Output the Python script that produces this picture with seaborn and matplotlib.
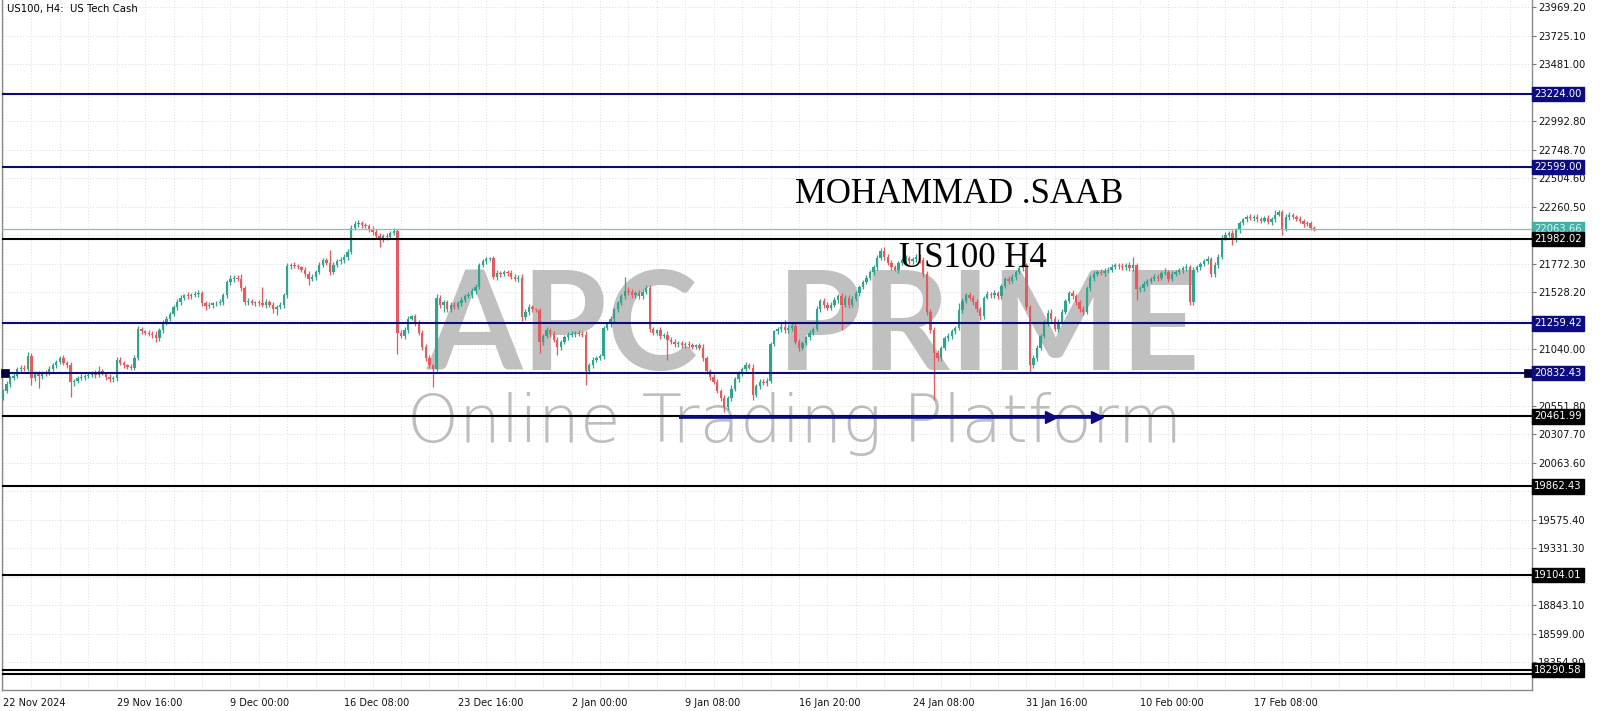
import matplotlib
matplotlib.use("Agg")
import matplotlib.pyplot as plt
from matplotlib.transforms import blended_transform_factory
import numpy as np
import pandas as pd
import seaborn as sns

# ---------------- data ----------------
first_open = 20630
close = [
    20680, 20740, 20790, 20810, 20870, 20880, 20870, 20980,
    20790, 20830, 20810, 20840, 20830, 20870, 20900, 20930,
    20960, 20920, 20900, 20760, 20770, 20790, 20800, 20810,
    20820, 20830, 20820, 20850, 20830, 20800, 20780, 20790,
    20950, 20920, 20900, 20890, 20880, 20960, 21210, 21190,
    21180, 21170, 21160, 21130, 21200, 21260, 21300, 21340,
    21400, 21440, 21480, 21500, 21490, 21500, 21510, 21520,
    21430, 21410, 21420, 21430, 21430, 21440, 21500, 21610,
    21640, 21650, 21640, 21560, 21440, 21450, 21430, 21440,
    21430, 21420, 21440, 21420, 21380, 21400, 21420, 21500,
    21750, 21760, 21750, 21740, 21720, 21680, 21640, 21660,
    21700, 21760, 21800, 21780, 21700, 21760, 21790, 21800,
    21830, 21870, 22080, 22110, 22120, 22100, 22090, 22070,
    22040, 22010, 21980, 22010, 22000, 22030, 22050, 21180,
    21150, 21200, 21300, 21320, 21260, 21180, 21060, 20960,
    20900, 20870, 21480, 21420, 21440, 21380, 21420, 21400,
    21430, 21460, 21490, 21500, 21540, 21570, 21760, 21790,
    21810, 21820, 21660, 21690, 21680, 21700, 21690, 21660,
    21640, 21650, 21310, 21360, 21400, 21380, 21370, 21100,
    21150, 21200, 21170, 21120, 21060, 21100, 21140, 21160,
    21170, 21180, 21170, 21160, 20850, 20900, 20950, 20960,
    20980, 21220, 21250, 21300, 21380, 21430, 21490, 21540,
    21530, 21500, 21520, 21490, 21530, 21560, 21210, 21180,
    21200, 21150, 21160, 21120, 21100, 21080, 21090, 21070,
    21080, 21070, 21060, 21070, 21050, 20960, 20850, 20800,
    20760, 20680, 20620, 20540, 20620, 20700, 20780, 20830,
    20870, 20900, 20880, 20650, 20720, 20760, 20750, 20770,
    21080, 21190, 21210, 21230, 21200, 21220, 21240, 21100,
    21050, 21090, 21140, 21180, 21210, 21380, 21450, 21420,
    21390, 21420, 21460, 21490, 21420, 21480, 21420, 21470,
    21520, 21570, 21610, 21650, 21700, 21740, 21820, 21880,
    21830, 21780, 21740, 21720, 21780, 21800, 21820, 21790,
    21810, 21830, 21800, 21680, 21360, 21200, 21010, 20960,
    21050, 21130, 21150, 21190, 21220, 21370, 21450, 21500,
    21480, 21440, 21380, 21320, 21480, 21510, 21500, 21520,
    21490, 21580, 21640, 21620, 21660, 21700, 21730, 21760,
    21400, 20900, 20960, 21050, 21150, 21260, 21350, 21300,
    21210, 21270, 21360, 21450, 21520, 21490, 21440, 21380,
    21360, 21560, 21650, 21680, 21700, 21690, 21710, 21720,
    21740, 21760, 21750, 21740, 21760, 21730, 21760, 21550,
    21560, 21600, 21620, 21640, 21660, 21650, 21690, 21700,
    21640, 21680, 21700, 21720, 21730, 21740, 21440, 21720,
    21740, 21770, 21790, 21810, 21680, 21760, 21830, 21990,
    22020, 22030, 21980, 22060, 22120, 22150, 22170, 22160,
    22170, 22150, 22140, 22160, 22130, 22150, 22190, 22210,
    22070, 22170, 22190, 22170, 22150, 22140, 22110, 22120,
    22080, 22063.66,
]
up_wick = [
    20, 25, 15, 30, 20, 25, 20, 35, 30, 20, 25, 15, 20, 25, 20, 15,
    20, 25, 20, 30, 15, 20, 25, 20, 15, 20, 30, 45, 20, 15, 25, 20,
    20, 25, 20, 15, 20, 30, 25, 20, 15, 25, 20, 30, 20, 25, 20, 15,
    20, 25, 20, 15, 25, 20, 30, 25, 20, 25, 20, 15, 20, 25, 20, 20,
    30, 25, 20, 40, 20, 25, 20, 15, 20, 140, 30, 20, 20, 15, 25, 20,
    25, 20, 25, 20, 15, 20, 25, 20, 20, 25, 20, 20, 110, 25, 20, 25,
    20, 25, 20, 25, 25, 20, 15, 20, 20, 25, 20, 15, 20, 20, 25, 15,
    25, 30, 20, 15, 20, 25, 20, 20, 25, 15, 30, 25, 20, 20, 25, 20,
    20, 25, 20, 25, 20, 25, 20, 25, 20, 10, 20, 25, 20, 15, 20, 25,
    20, 25, 30, 20, 25, 20, 15, 25, 20, 30, 20, 25, 20, 15, 20, 25,
    20, 15, 25, 20, 30, 20, 25, 20, 15, 20, 25, 20, 15, 20, 25, 117,
    30, 25, 20, 25, 20, 30, 25, 20, 15, 25, 20, 30, 20, 25, 20, 20,
    20, 25, 20, 15, 25, 30, 20, 15, 25, 20, 15, 25, 20, 30, 20, 25,
    20, 25, 20, 30, 20, 25, 20, 25, 20, 15, 20, 30, 60, 25, 20, 30,
    25, 20, 15, 25, 20, 25, 20, 25, 20, 20, 25, 20, 30, 20, 25, 20,
    15, 20, 25, 20, 15, 20, 25, 25, 30, 20, 25, 20, 15, 20, 25, 20,
    20, 25, 20, 30, 25, 20, 25, 20, 15, 20, 25, 20, 20, 60, 25, 20,
    25, 20, 25, 20, 15, 25, 20, 25, 20, 15, 20, 25, 20, 20, 25, 20,
    20, 20, 25, 20, 20, 25, 20, 30, 20, 25, 20, 15, 20, 25, 20, 20,
    25, 20, 25, 30, 20, 25, 20, 20, 25, 20, 15, 25, 20, 25, 70, 20,
    20, 25, 20, 15, 20, 25, 20, 30, 20, 25, 20, 15, 20, 25, 20, 25,
    20, 15, 20, 25, 20, 25, 20, 25, 20, 20, 25, 20, 20, 15, 20, 25,
    20, 25, 20, 15, 25, 20, 40, 20, 20, 25, 20, 15, 20, 25, 15, 20,
    20, 15,
]
lo_wick = [
    30, 20, 25, 15, 20, 25, 20, 15, 60, 20, 100, 25, 20, 15, 20, 25,
    20, 20, 25, 130, 40, 20, 15, 25, 20, 20, 25, 20, 15, 25, 20, 20,
    25, 20, 20, 25, 20, 20, 15, 25, 20, 20, 25, 30, 20, 20, 15, 20,
    20, 25, 20, 20, 25, 20, 15, 25, 20, 40, 20, 25, 20, 15, 20, 25,
    20, 25, 20, 20, 25, 20, 15, 25, 20, 20, 25, 20, 30, 50, 20, 25,
    20, 25, 20, 15, 20, 25, 52, 20, 25, 20, 15, 20, 25, 20, 20, 25,
    20, 25, 20, 20, 25, 20, 15, 25, 20, 25, 67, 20, 25, 20, 15, 180,
    20, 25, 20, 15, 25, 20, 30, 25, 20, 155, 20, 25, 60, 20, 25, 20,
    20, 25, 20, 15, 20, 25, 20, 20, 25, 20, 20, 25, 20, 15, 25, 20,
    20, 25, 30, 20, 25, 20, 15, 90, 25, 20, 30, 20, 70, 25, 20, 20,
    20, 25, 20, 15, 120, 25, 20, 20, 15, 25, 20, 20, 25, 20, 15, 20,
    25, 20, 20, 25, 20, 15, 25, 20, 20, 25, 15, 170, 20, 25, 20, 20,
    20, 25, 20, 20, 15, 25, 20, 25, 20, 15, 25, 40, 20, 25, 20, 20,
    25, 20, 15, 50, 25, 20, 20, 25, 20, 15, 20, 25, 20, 20, 25, 20,
    25, 20, 20, 25, 20, 15, 20, 25, 20, 15, 20, 25, 220, 20, 25, 20,
    20, 25, 20, 15, 20, 25, 20, 20, 25, 20, 20, 15, 25, 20, 20, 25,
    20, 25, 20, 20, 25, 20, 410, 25, 20, 15, 20, 25, 20, 20, 25, 15,
    20, 25, 20, 30, 20, 15, 25, 20, 20, 25, 20, 20, 15, 25, 20, 20,
    25, 60, 20, 25, 20, 15, 20, 30, 20, 25, 20, 20, 15, 25, 20, 20,
    25, 20, 20, 25, 15, 20, 25, 20, 20, 15, 25, 20, 20, 25, 20, 90,
    20, 25, 20, 15, 20, 25, 20, 20, 25, 20, 15, 20, 25, 20, 20, 25,
    20, 20, 15, 25, 20, 20, 25, 20, 15, 20, 50, 20, 25, 20, 20, 15,
    20, 25, 20, 15, 20, 25, 20, 15, 50, 20, 25, 20, 15, 20, 25, 20,
    20, 15,
]

date_labels = ["22 Nov 2024", "29 Nov 16:00", "9 Dec 00:00", "16 Dec 08:00",
               "23 Dec 16:00", "2 Jan 00:00", "9 Jan 08:00", "16 Jan 20:00",
               "24 Jan 08:00", "31 Jan 16:00", "10 Feb 00:00", "17 Feb 08:00"]
date_label_bars = [0, 32, 64, 96, 128, 160, 192, 224, 256, 288, 320, 352]

price_ticks = [23969.20, 23725.10, 23481.00, 23236.90, 22992.80, 22748.70,
               22504.60, 22260.50, 22016.40, 21772.30, 21528.20, 21284.10,
               21040.00, 20795.90, 20551.80, 20307.70, 20063.60, 19819.50,
               19575.40, 19331.30, 19087.20, 18843.10, 18599.00, 18354.90]
# tick labels fully hidden behind the level boxes in the reference
hidden_ticks = [23236.90, 22016.40, 21284.10, 19087.20]

navy_levels = [23224.00, 22599.00, 21259.42, 20832.43]
black_levels = [21982.02, 20461.99, 19862.43, 19104.01, 18290.58]
extra_black_level = 18260.00
bid_level = 22063.66
arrow_level = 20461.99
arrow_bars = [190.3, 295.0, 308.0]

# ---------------- figure ----------------
sns.set_theme(style="white")
plt.rcParams['font.family'] = ['DejaVu Sans']

W, H = 1600, 711
fig = plt.figure(figsize=(W / 100, H / 100), dpi=100)
fig.patch.set_facecolor("white")
ax = fig.add_axes([2 / W, 21 / H, 1530 / W, 690 / H])
ax.set_facecolor("white")

n = len(close)
df = pd.DataFrame({"close": close[:n]})
df["open"] = [first_open] + close[:n - 1]
df["up"] = up_wick[:n]
df["lo"] = lo_wick[:n]
df["high"] = df[["open", "close"]].max(axis=1) + df["up"]
df["low"] = df[["open", "close"]].min(axis=1) - df["lo"]
df["bar"] = np.arange(n)
bull_c, bear_c = "#2ea58e", "#e8585c"
df["color"] = np.where(df["close"] >= df["open"], bull_c, bear_c)

ax.set_xlim(-0.28, 430.3)
ax.set_ylim(18119.3, 24029.2)

# grid
ax.set_xticks(date_label_bars)
ax.set_xticks(np.arange(0, 431, 8), minor=True)
ax.set_yticks(price_ticks)
ax.grid(True, which="both", axis="x", color="#dcdcdc", linestyle=(0, (1, 2)), linewidth=0.7, zorder=0)
ax.grid(True, which="major", axis="y", color="#dcdcdc", linestyle=(0, (1, 2)), linewidth=0.7, zorder=0)
ax.set_axisbelow(True)

# watermark
def px2ax(x, y):
    return (x - 2) / 1530, 1 - y / 690

wm_font = ["Lato", "DejaVu Sans"]
ax.text(*px2ax(563, 370), "APC", transform=ax.transAxes, ha="center", va="baseline",
        fontsize=99, family=wm_font, fontweight="bold", color="#c0c0c0", zorder=1)
ax.text(*px2ax(989, 370), "PRIME", transform=ax.transAxes, ha="center", va="baseline",
        fontsize=99, family=wm_font, fontweight="bold", color="#c0c0c0", zorder=1)
t2 = ax.text(*px2ax(795, 442), "Online Trading Platform", transform=ax.transAxes, ha="center",
             va="baseline", fontsize=40, family=["DejaVu Sans"], fontweight="light",
             color="#bdbdbd", zorder=1)

# candles
ax.vlines(df["bar"], df["low"], df["high"], colors=df["color"], linewidth=0.9, zorder=3)
body = (df["close"] - df["open"]).abs().clip(lower=8)
ax.bar(df["bar"], body, bottom=df[["open", "close"]].min(axis=1), width=0.66,
       color=df["color"], linewidth=0, zorder=3.5)

# levels
for v in navy_levels:
    ax.axhline(v, color="#0a0a78", linewidth=1.5, zorder=4)
for v in black_levels + [extra_black_level]:
    ax.axhline(v, color="#000000", linewidth=1.5, zorder=4)
ax.axhline(bid_level, color="#7cc4bc", linewidth=0.9, zorder=4)

# end squares on 20832.43
sq = pd.DataFrame({"bar": [0.5, 429.2], "price": [navy_levels[3]] * 2})
sns.scatterplot(data=sq, x="bar", y="price", marker="s", s=38, color="#00003c",
                edgecolor="#00003c", ax=ax, zorder=6, legend=False, clip_on=False)

# arrow along 20461.99
ax.plot([arrow_bars[0], arrow_bars[2]], [arrow_level - 8] * 2, color="#0b0b80", linewidth=2.6,
        zorder=5, solid_capstyle="butt")
ax.plot(arrow_bars[1:], [arrow_level - 8] * 2, linestyle="none", marker=">", markersize=9,
        color="#0b0b80", zorder=5)

# author texts
ax.text(*px2ax(959, 203), "MOHAMMAD .SAAB", transform=ax.transAxes, ha="center", va="baseline",
        fontsize=25, family=["Liberation Serif", "DejaVu Serif"], color="#000000", zorder=7)
ax.text(*px2ax(973, 267), "US100 H4", transform=ax.transAxes, ha="center", va="baseline",
        fontsize=25, family=["Liberation Serif", "DejaVu Serif"], color="#000000", zorder=7)

# title
ax.text(*px2ax(7, 4), "US100, H4:  US Tech Cash", transform=ax.transAxes, ha="left", va="top",
        fontsize=7.3, color="#000000", zorder=7)

# axes / ticks
ax.yaxis.tick_right()
ax.set_yticklabels(["" if v in hidden_ticks else f"{v:.2f}" for v in price_ticks])
ax.set_xticklabels(date_labels)
for lab in ax.get_xticklabels():
    lab.set_horizontalalignment("left")
ax.tick_params(axis="y", which="major", direction="out", length=3, width=0.8, color="#777777",
               labelsize=7.2, pad=1.5, labelcolor="#111111")
ax.tick_params(axis="x", which="major", direction="out", length=4, width=0.8, color="#777777",
               labelsize=7, pad=1.5, labelcolor="#111111")
ax.tick_params(axis="x", which="minor", length=0)
for s in ["left", "right", "bottom"]:
    ax.spines[s].set_visible(True)
    ax.spines[s].set_color("#8a8a8a")
    ax.spines[s].set_linewidth(1.0)
ax.spines["top"].set_visible(False)
ax.set_xlabel("")
ax.set_ylabel("")

# price boxes on right axis
tr = blended_transform_factory(ax.transAxes, ax.transData)
def box(v, fc, tc):
    ax.text(1.0015, v, f"{v:.2f}", transform=tr, ha="left", va="center", fontsize=7.2,
            color=tc, zorder=10, clip_on=False,
            bbox=dict(boxstyle="square,pad=0.22", fc=fc, ec=fc))
for v in navy_levels:
    box(v, "#0c0c82", "#ffffff")
box(bid_level, "#3fb3a5", "#d9f3ef")
for v in black_levels:
    box(v, "#000000", "#ffffff")

# fit the slogan width to the reference span
fig.canvas.draw()
r = fig.canvas.get_renderer()
w = t2.get_window_extent(r).width
t2.set_fontsize(t2.get_fontsize() * 774 / w)

fig.savefig("out.png", dpi=100)
